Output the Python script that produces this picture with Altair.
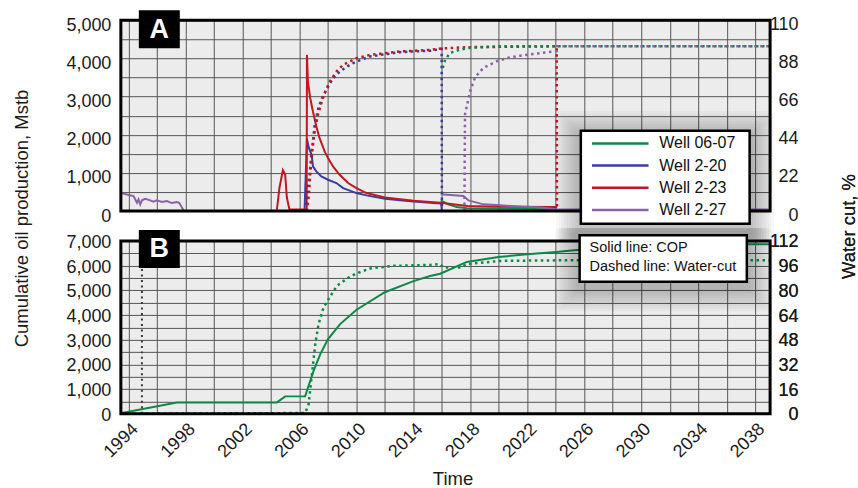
import altair as alt
import pandas as pd

# ---------------- data ----------------
WELLS = ["Well 06-07", "Well 2-20", "Well 2-23", "Well 2-27"]
COLORS = ["#0a8a46", "#3a3c9c", "#c4161f", "#8b62a9"]

GRID_YEARS = list(range(1994, 2039, 2))

# Panel A - oil production (Mstb), solid lines
w0607_cop_yr = [2015.92, 2016.45, 2017.04, 2017.74, 2024.08]
w0607_cop = [280, 175, 105, 71, 45]

w220_cop_yr = [2006.35, 2006.52, 2006.66, 2006.85, 2006.94, 2007.18, 2007.53, 2008.0, 2008.59,
               2009.06, 2010.0, 2010.7, 2012.0, 2014.0, 2015.18, 2015.95, 2016.0]
w220_cop = [0, 1885, 1649, 1475, 1169, 1038, 907, 820, 733, 602, 471, 410, 323, 253, 215, 200, 0]

w223_cop_yr = [2004.41, 2004.59, 2004.83, 2004.99, 2005.11, 2005.29, 2006.5, 2006.52, 2006.59,
               2006.75, 2006.94, 2007.18, 2007.41, 2007.76, 2008.0, 2008.35, 2008.82, 2009.41,
               2010.0, 2010.7, 2012.0, 2014.0, 2015.9, 2017.8, 2020.1, 2024.08]
w223_cop = [40, 610, 1073, 961, 349, 40, 40, 4092, 3394, 2958, 2609, 2216, 1911, 1562, 1387,
            1169, 951, 733, 602, 471, 358, 270, 220, 131, 110, 105]

w227_cop_early_yr = [1993.5, 1993.99, 1994.34, 1994.58, 1994.69, 1994.81, 1994.93, 1995.16,
                     1995.51, 1995.74, 1995.98, 1996.33, 1996.68, 1997.03, 1997.38, 1997.55, 1997.85]
w227_cop_early = [470, 419, 393, 217, 306, 175, 280, 322, 280, 244, 280, 236, 262, 209, 236, 217, 18]

w227_cop_late_yr = [2015.92, 2017.51, 2017.86, 2018.92, 2020.09, 2021.5, 2023.0, 2024.1, 2039.0]
w227_cop_late = [437, 393, 280, 175, 149, 120, 95, 40, 40]

# Panel A - water cut (%), dotted lines
w0607_wc_yr = [2016.06, 2016.23, 2016.58, 2017.28, 2017.99, 2020.0, 2039.0]
w0607_wc = [82.5, 87.4, 91.2, 93.1, 94.1, 95.0, 95.0]

w220_wc_yr = [2006.42, 2006.59, 2006.71, 2006.82, 2006.94, 2007.06, 2007.29, 2007.53, 2007.88,
              2008.35, 2008.82, 2009.53, 2010.0, 2010.94, 2012.0, 2013.06, 2014.0, 2015.18,
              2015.98, 2016.0]
w220_wc = [0, 13.2, 20.9, 32.4, 40.1, 49.7, 58.4, 64.1, 69.9, 76.6, 80.4, 84.3, 86.2, 89.1,
           90.4, 91.6, 92.0, 92.4, 93.5, 0]

w223_wc_yr = [2006.52, 2006.66, 2006.75, 2006.89, 2007.06, 2007.29, 2007.53, 2007.76, 2008.12,
              2008.59, 2009.06, 2010.0, 2010.94, 2012.0, 2013.06, 2015.18, 2016.0, 2018.0,
              2024.06, 2024.08]
w223_wc = [0, 9.4, 20.9, 34.4, 45.9, 55.5, 62.2, 68.0, 74.7, 80.4, 84.3, 88.1, 90.0, 91.0,
           92.0, 92.9, 93.8, 94.5, 95.0, 0]

w227_wc_yr = [2017.58, 2017.62, 2017.98, 2018.33, 2018.92, 2019.86, 2020.79, 2022.19, 2024.07,
              2024.1, 2039.0]
w227_wc = [0, 55.7, 69.1, 77.1, 82.6, 86.4, 88.7, 90.3, 92.2, 95.0, 95.0]

# Panel B - cumulative oil production (Mstb) and water cut (%)
field_cop_yr = [1993.52, 1997.38, 2004.41, 2004.99, 2006.39, 2006.98, 2007.45, 2007.99, 2008.85,
                2009.98, 2011.99, 2014.0, 2015.17, 2015.88, 2017.75, 2019.97, 2022.0, 2024.02,
                2025.47, 2030.0, 2034.0, 2037.52, 2039.0]
field_cop = [29, 461, 461, 706, 706, 1726, 2408, 3020, 3633, 4204, 4926, 5375, 5580, 5673,
             6151, 6355, 6461, 6557, 6640, 6740, 6810, 6868, 6868]

field_wc_yr = [1993.5, 2006.39, 2006.63, 2006.87, 2007.1, 2007.33, 2007.68, 2008.03, 2008.62,
               2009.44, 2009.98, 2010.96, 2012.6, 2015.17, 2015.88, 2016.11, 2017.28, 2017.75,
               2020.09, 2025.47, 2039.0]
field_wc = [0, 0.5, 5.9, 25.4, 44.9, 57.9, 68.8, 74.2, 82.9, 88.3, 90.9, 94.2, 95.9, 96.5,
            97.0, 94.9, 94.9, 97.0, 99.1, 99.6, 99.6]

early_wc_yr = [1994.93, 1994.931]
early_wc = [0, 97]


def series(yrs, vals, name, seg):
    return pd.DataFrame({"year": yrs, "value": vals, "well": name, "seg": seg,
                         "idx": list(range(len(yrs)))})


solid_a = pd.concat([
    series(w0607_cop_yr, w0607_cop, WELLS[0], "a0"),
    series(w220_cop_yr, w220_cop, WELLS[1], "a1"),
    series(w223_cop_yr, w223_cop, WELLS[2], "a2"),
    series(w227_cop_early_yr, w227_cop_early, WELLS[3], "a3"),
    series(w227_cop_late_yr, w227_cop_late, WELLS[3], "a4"),
], ignore_index=True)

wc_a = pd.concat([
    series(w220_wc_yr, w220_wc, WELLS[1], "b1"),
    series(w223_wc_yr, w223_wc, WELLS[2], "b2"),
    series(w0607_wc_yr, w0607_wc, WELLS[0], "b0"),
    series(w227_wc_yr, w227_wc, WELLS[3], "b3"),
], ignore_index=True)

cop_b = series(field_cop_yr, field_cop, "Field", "c0")
wc_b = series(field_wc_yr, field_wc, "Field", "d0")
wc_early = series(early_wc_yr, early_wc, "Early", "d1")

one = pd.DataFrame({"k": [0]})

# ---------------- styling ----------------
FONT = "Liberation Sans"
W = 650
HA = 191
HB = 173
GREEN = COLORS[0]
X_DOMAIN = [1993.45, 2039.05]
DOT = [2.5, 3.5]

color_wells = alt.Color("well:N", scale=alt.Scale(domain=WELLS, range=COLORS), legend=None)


def x_enc(show):
    if show:
        ax = alt.Axis(values=GRID_YEARS, grid=True, ticks=False, domain=False,
                      labelExpr="(datum.value - 1994) % 4 == 0 ? datum.value : ''",
                      labelAngle=315, labelPadding=6,
                      title="Time", titleX=332, titleY=65, titleAlign="center",
                      titleBaseline="middle", titleAngle=0)
    else:
        ax = alt.Axis(values=GRID_YEARS, grid=True, ticks=False, domain=False,
                      labels=False, title="")
    return alt.X("year:Q", scale=alt.Scale(domain=X_DOMAIN, nice=False, zero=False), axis=ax)


def rect(x1, y1, x2, y2, **kw):
    return alt.Chart(one).mark_rect(**kw).encode(
        x=alt.value(x1), x2=alt.value(x2), y=alt.value(y1), y2=alt.value(y2))


def label(txt, x, y, **kw):
    return alt.Chart(one).mark_text(text=txt, font=FONT, **kw).encode(
        x=alt.value(x), y=alt.value(y))


def shadow(x1, y1, x2, y2, ymin=-1000, steps=9, grow=2.6, drop=5, op=0.028):
    out = []
    for k in range(steps, 0, -1):
        top = max(y1 - grow * k + drop, ymin)
        out.append(rect(x1 - grow * k, top, x2 + grow * k, y2 + grow * k + drop,
                        color="black", opacity=op, cornerRadius=4))
    return out


# ---------------- Panel A ----------------
xA = x_enc(False)
yA_left = alt.Y("value:Q", scale=alt.Scale(domain=[0, 5000], nice=False),
                axis=alt.Axis(values=list(range(0, 5001, 500)), grid=True, ticks=False,
                              domain=False, title="", labelPadding=10, labelOffset=5,
                              labelExpr="datum.value % 1000 == 0 ? format(datum.value, ',') : ''"))
yA_right = alt.Y("value:Q", scale=alt.Scale(domain=[0, 110], nice=False),
                 axis=alt.Axis(orient="right", values=[0, 22, 44, 66, 88, 110], grid=False,
                               ticks=False, domain=False, title="", labelAlign="right",
                               labelPadding=28, labelOffset=4))

lines_a = alt.Chart(solid_a).mark_line(strokeWidth=2).encode(
    x=xA, y=yA_left, color=color_wells, detail="seg:N", order="idx:Q")
dots_a = alt.Chart(wc_a).mark_line(strokeWidth=2.5, strokeDash=DOT).encode(
    x=xA, y=yA_right, color=color_wells, detail="seg:N", order="idx:Q")

legend_layers = []
for i, (w, c) in enumerate(zip(WELLS, COLORS)):
    yy = 123.3 + 22.2 * i
    legend_layers.append(alt.Chart(one).mark_rule(color=c, strokeWidth=2.5).encode(
        x=alt.value(471.7), x2=alt.value(528.3), y=alt.value(yy)))
    legend_layers.append(label(w, 539, yy, align="left", baseline="middle",
                               fontSize=16, color="#111111"))

panel_a = alt.layer(
    lines_a, dots_a,
    rect(0, 0, W, HA, fillOpacity=0, stroke="black", strokeWidth=3),
    *shadow(459.3, 109.3, 630.7, 205),
    rect(460.5, 110.5, 629.5, 203.8, fill="white", stroke="black", strokeWidth=2.5),
    *legend_layers,
    rect(18, -10, 59, 28, color="black"),
    label("A", 38.5, 9.5, align="center", baseline="middle", fontSize=27,
          fontWeight="bold", color="white"),
).resolve_scale(y="independent").properties(width=W, height=HA)

# ---------------- Panel B ----------------
xB = x_enc(True)
yB_left = alt.Y("value:Q", scale=alt.Scale(domain=[0, 7000], nice=False),
                axis=alt.Axis(values=list(range(0, 7001, 500)), grid=True, ticks=False,
                              domain=False, labelPadding=10, labelOffset=1.5,
                              labelExpr="datum.value % 1000 == 0 ? format(datum.value, ',') : ''",
                              title="Cumulative oil production, Mstb", titleX=-99, titleY=-23,
                              titleAngle=270, titleAlign="center", titleBaseline="middle"))
yB_right = alt.Y("value:Q", scale=alt.Scale(domain=[0, 112], nice=False),
                 axis=alt.Axis(orient="right", values=list(range(0, 113, 16)), grid=False,
                               ticks=False, domain=False, labelAlign="right", labelPadding=28,
                               labelOffset=1,
                               title="Water cut, %", titleX=78, titleY=-15, titleAngle=270,
                               titleAlign="center", titleBaseline="middle"))

lines_b = alt.Chart(cop_b).mark_line(strokeWidth=2, color=GREEN).encode(
    x=xB, y=yB_left, order="idx:Q")
dots_b = alt.Chart(wc_b).mark_line(strokeWidth=2.5, strokeDash=DOT, color=GREEN).encode(
    x=xB, y=yB_right, order="idx:Q")
dots_early = alt.Chart(wc_early).mark_line(strokeWidth=2, strokeDash=[2, 3.5],
                                           color="#3a3a3a").encode(
    x=xB, y=yB_right, order="idx:Q")

panel_b = alt.layer(
    lines_b, dots_b, dots_early,
    rect(0, 0, W, HB, fillOpacity=0, stroke="black", strokeWidth=3),
    *shadow(458, -7, 628, 42, ymin=-13),
    rect(459.3, -5.7, 626.7, 40.7, fill="white", stroke="black", strokeWidth=2.5),
    label("Solid line: COP", 469.3, 7.3, align="left", baseline="middle", fontSize=14.5,
          color="#111111"),
    label("Dashed line: Water-cut", 469.3, 25.7, align="left", baseline="middle",
          fontSize=14.5, color="#111111"),
    rect(18, -11, 59, 27, color="black"),
    label("B", 38.5, 8, align="center", baseline="middle", fontSize=27,
          fontWeight="bold", color="white"),
).resolve_scale(y="independent").properties(width=W, height=HB)

chart = alt.vconcat(panel_a, panel_b, spacing=30, bounds="flush").properties(
    padding={"left": 12, "top": 10, "right": 0, "bottom": 0}
).configure_view(strokeWidth=0, fill="#ececec").configure_axis(
    labelFont=FONT, labelFontSize=18, labelColor="#1a1a1a",
    titleFont=FONT, titleFontSize=18.5, titleFontWeight="normal", titleColor="#1a1a1a",
    gridColor="#555555", gridWidth=1, gridOpacity=1
)

chart.save("out.html", embed_options={"renderer": "svg", "actions": False})
